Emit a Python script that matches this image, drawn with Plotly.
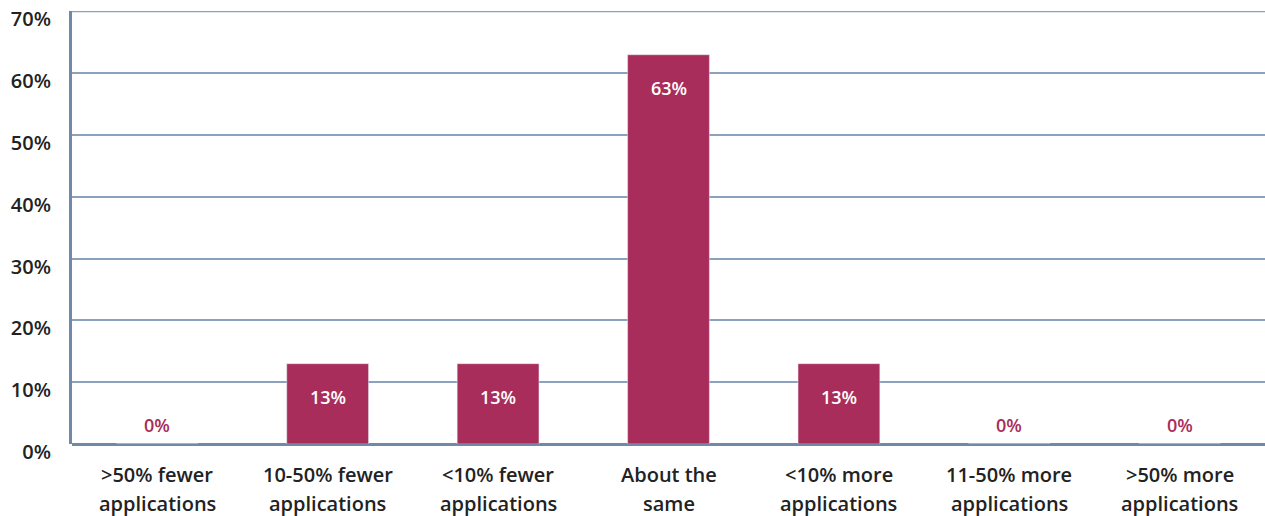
import plotly.graph_objects as go

categories = [">50% fewer applications", "10-50% fewer applications", "<10% fewer applications",
              "About the same", "<10% more applications", "11-50% more applications",
              ">50% more applications"]
label_lines = [[">50% fewer", "applications"], ["10-50% fewer", "applications"],
               ["<10% fewer", "applications"], ["About the", "same"],
               ["<10% more", "applications"], ["11-50% more", "applications"],
               [">50% more", "applications"]]
values = [0, 13, 13, 63, 13, 0, 0]
y_ticks = [0, 10, 20, 30, 40, 50, 60, 70]

BAR = "#A82D5B"
GRID = "#8AA2BE"
AXIS = "#7089A6"
TEXT = "#222222"
FONT = "Open Sans"

fig = go.Figure(go.Bar(x=categories, y=values, marker_color=BAR, width=0.48,
                       hoverinfo="skip"))

annotations = []
for cat, v in zip(categories, values):
    if v > 0:
        annotations.append(dict(x=cat, y=v, xref="x", yref="y", text=f"{v}%",
                                showarrow=False, yshift=-33,
                                font=dict(family=FONT, size=18, color="white", weight=600)))
    else:
        annotations.append(dict(x=cat, y=0, xref="x", yref="y", text=f"{v}%",
                                showarrow=False, yshift=19,
                                font=dict(family=FONT, size=18, color=BAR, weight=600)))

for cat, lines in zip(categories, label_lines):
    for i, line in enumerate(lines):
        annotations.append(dict(x=cat, y=0, xref="x", yref="paper", text=line,
                                showarrow=False, yanchor="middle", yshift=-30 - 29 * i,
                                font=dict(family=FONT, size=20, color=TEXT, weight=600)))

fig.update_layout(
    width=1265, height=516,
    margin=dict(l=72, r=0, t=11, b=72),
    plot_bgcolor="white", paper_bgcolor="white",
    showlegend=False, bargap=0.52,
    annotations=annotations,
    font=dict(family=FONT, color=TEXT),
)
# top gridline at the highest tick
fig.add_shape(type="line", xref="paper", yref="y", x0=0, x1=1,
              y0=y_ticks[-1], y1=y_ticks[-1], line=dict(color=GRID, width=1.5), layer="below")
fig.update_xaxes(showticklabels=False, showline=False, showgrid=False, zeroline=False,
                 fixedrange=True, automargin=False)
fig.update_yaxes(range=[0, 70.08], tickvals=y_ticks, ticktext=[f"{t}%" for t in y_ticks],
                 showgrid=True, gridcolor=GRID, gridwidth=1.5,
                 zeroline=True, zerolinecolor=AXIS, zerolinewidth=3,
                 showline=True, linecolor=AXIS, linewidth=3,
                 ticks="", ticklabelstandoff=14, ticklabeloverflow="allow",
                 ticklabelshift=8,
                 tickfont=dict(family=FONT, size=20, color=TEXT, weight=600),
                 fixedrange=True, automargin=False)

fig.write_html("out.html")
